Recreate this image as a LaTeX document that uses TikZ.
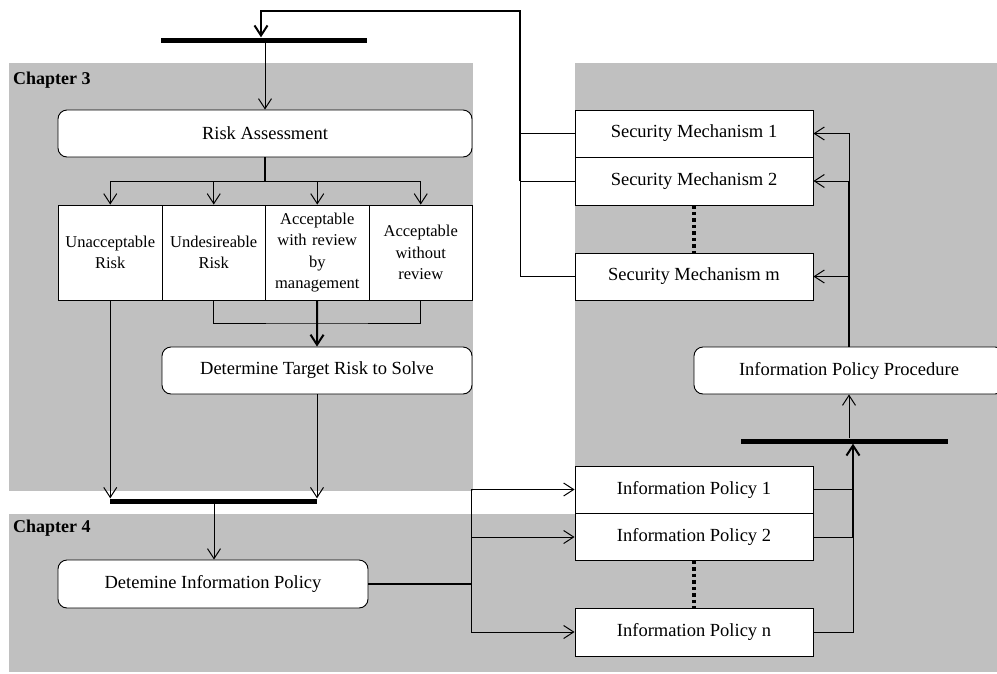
\documentclass[tikz,border=0pt]{standalone}
\usepackage{fontspec}
\setmainfont{Liberation Serif}
\usetikzlibrary{arrows.meta}
\definecolor{panel}{HTML}{C0C0C0}
\begin{document}
\begin{tikzpicture}[x=1pt,y=-1pt,
  every node/.style={font=\fontsize{18.5}{21.5}\selectfont},
  box/.style={draw, fill=white, line width=0.9pt, inner sep=0pt, align=center},
  rbox/.style={box, rounded corners=9pt},
  catbox/.style={box, minimum width=103.5pt, minimum height=95pt, text width=100pt,
    font=\fontsize{16.5}{21.5}\selectfont},
  syncbar/.style={fill=black, inner sep=0pt, minimum height=5pt},
  arrowtip/.style={-{Straight Barb[length=10pt,width=13pt]}},
  ln/.style={line width=1pt},
  thk/.style={line width=2pt},
  arr/.style={ln, arrowtip},
  tarr/.style={thk, arrowtip},
  ellip/.style={line width=3.5pt, dash pattern=on 3.5pt off 3pt},
  chap/.style={font=\bfseries\fontsize{18}{21}\selectfont, anchor=base west, inner sep=0pt}
]
\useasboundingbox (0,0) rectangle (997,673);
\clip (0,0) rectangle (997,673);

% shaded chapter panels
\fill[panel] (9,63) rectangle (473,491);
\fill[panel] (575,63) rectangle (997,514);
\fill[panel] (9,514) rectangle (997,672);

\node[chap] (ch3) at (13,84) {Chapter 3};
\node[chap] (ch4) at (13,532) {Chapter 4};

% Chapter 3
\node[syncbar, minimum width=206pt] (bar1) at (264,40) {};
\node[rbox, minimum width=414pt, minimum height=47pt] (ra) at (265,133.5) {Risk Assessment};
\node[catbox] (c1) at (110.25,252.5) {Unacceptable\\Risk};
\node[catbox] (c2) at (213.75,252.5) {Undesireable\\Risk};
\node[catbox] (c3) at (317.25,252.5) {Acceptable\\with review\\by\\management};
\node[catbox] (c4) at (420.75,252.5) {Acceptable\\without\\review};
\node[rbox, minimum width=310pt, minimum height=47pt] (dtr) at (317,370.5) {Determine Target Risk to Solve};
\node[syncbar, minimum width=207pt] (bar2) at (213.5,501) {};

% Chapter 4
\node[rbox, minimum width=310pt, minimum height=48pt] (dip) at (213,584) {Detemine Information Policy};
\node[box, minimum width=238pt, minimum height=47pt] (ip1) at (694,489.5) {Information Policy 1};
\node[box, minimum width=238pt, minimum height=47pt] (ip2) at (694,537) {Information Policy 2};
\node[box, minimum width=238pt, minimum height=48pt] (ipn) at (694,632) {Information Policy n};
\node[syncbar, minimum width=207pt] (bar3) at (844.5,441) {};
\node[rbox, minimum width=310pt, minimum height=47pt] (ipp) at (849,370.5) {Information Policy Procedure};

% security mechanisms
\node[box, minimum width=238pt, minimum height=47pt] (sm1) at (694,133.5) {Security Mechanism 1};
\node[box, minimum width=238pt, minimum height=48pt] (sm2) at (694,181) {Security Mechanism 2};
\node[box, minimum width=238pt, minimum height=47pt] (smm) at (694,276.5) {Security Mechanism m};

\coordinate (trunk) at (520,11);
\coordinate (split) at (265,181);
\coordinate (join) at (317,323);
\coordinate (fan) at (471,584);
\coordinate (collect) at (853,537);
\coordinate (spread) at (849,181);

% feedback from the mechanisms to the top bar
\draw[ln] (smm.west) -| (sm2.west -| trunk);
\draw[ln] (sm1.west) -- (sm1.west -| trunk);
\draw[ln] (sm2.west) -- (sm2.west -| trunk);
\draw[tarr] (sm2.west -| trunk) -- (trunk) -| (261,0 |- bar1.north);

% risk assessment fan-out
\draw[arr] (265,0 |- bar1.south) -- (ra.north);
\draw[thk] (ra.south) -- (split);
\draw[arr] (split) -| (c1.north);
\draw[arr] (split) -| (c2.north);
\draw[arr] (split) -| (c3.north);
\draw[arr] (split) -| (c4.north);

% categories to target risk and to the lower bar
\draw[arr] (c1.south) -- (c1.south |- bar2.north);
\draw[ln] (c2.south) |- (join) -| (c4.south);
\draw[tarr] (c3.south) -- (dtr.north);
\draw[arr] (dtr.south) -- (dtr.south |- bar2.north);
\draw[arr] (214,0 |- bar2.south) -- (214,0 |- dip.north);

% information policies
\draw[thk] (dip.east) -- (fan);
\draw[arr] (fan) |- (ip1.west);
\draw[arr] (fan) |- (ip2.west);
\draw[arr] (fan) |- (ipn.west);
\draw[ln] (ip1.east) -- (ip1.east -| collect);
\draw[ln] (ip2.east) -- (collect);
\draw[ln] (ipn.east) -| (collect);
\draw[tarr] (collect) -- (853,0 |- bar3.south);
\draw[arr] (849,0 |- bar3.north) -- (ipp.south);

% procedure to mechanisms
\draw[thk] (ipp.north) -- (spread);
\draw[arr] (spread) -- (sm2.east);
\draw[arr] (ipp.north |- smm.east) -- (smm.east);
\draw[arr] (spread) |- (sm1.east);

% omitted items
\draw[ellip] (sm2.south) -- (smm.north);
\draw[ellip] (ip2.south) -- (ipn.north);
\end{tikzpicture}
\end{document}
